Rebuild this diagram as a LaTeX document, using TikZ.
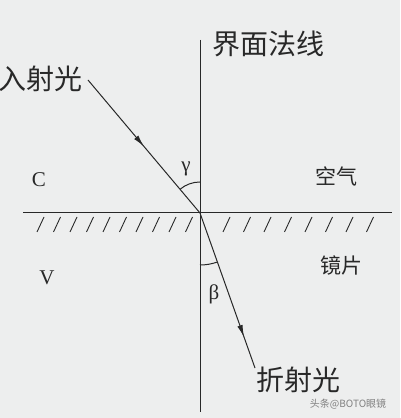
\documentclass[tikz,border=0pt]{standalone}
\usepackage{fontspec}
\newfontfamily\cjk{Noto Sans CJK SC}
\newfontfamily\serifletters{Liberation Serif}
\usetikzlibrary{
  arrows.meta,
  decorations.markings
}
\definecolor{paper}{RGB}{237,238,238}
\definecolor{ink}{RGB}{40,40,40}
\tikzset{
  x = 1pt,
  y = 1pt,
  line/.style = {draw=ink, line width=1pt},
  ray/.style = {line, postaction={decorate}, decoration={markings,
      mark=at position #1 with {\arrow{Latex[length=12pt,width=5.5pt]}}}},
  hatch/.style = {draw=ink, line width=0.9pt},
  bigtext/.style = {font=\cjk\fontsize{28}{28}\selectfont, text=ink, inner sep=0pt},
  midtext/.style = {font=\cjk\fontsize{21}{21}\selectfont, text=ink, inner sep=0pt},
  letter/.style = {font=\serifletters\fontsize{21}{21}\selectfont, text=ink, inner sep=0pt},
  mark text/.style = {font=\cjk\fontsize{10}{10}\selectfont, text=gray, inner sep=0pt},
}

\begin{document}
\begin{tikzpicture}
  \fill[paper] (0,0) rectangle (400,418);
  \useasboundingbox (0,0) rectangle (400,418);

  \coordinate (O) at (200,205);
  \coordinate (top) at (200,378);
  \coordinate (bottom) at (200,6);
  \coordinate (left) at (23,205);
  \coordinate (right) at (392,205);
  \coordinate (in) at (88,338);
  \coordinate (out) at (255,50);

  % normal and interface
  \draw[line] (top) -- (bottom);
  \draw[line] (left) -- (right);

  % mirror hatching
  \foreach \x in {37,53.5,...,190}
    \draw[hatch] (\x,186) -- ++(7,15);
  \foreach \x in {223,243.5,...,370}
    \draw[hatch] (\x,186) -- ++(7,15);

  % rays
  \draw[ray=0.5] (in) -- (O);
  \draw[ray=0.8] (O) -- (out);

  % angles
  \draw[line] (O) ++(90:31) arc[start angle=90, end angle=130, radius=31];
  \draw[line] (O) ++(270:52) arc[start angle=270, end angle=289.5, radius=52];

  % labels
  \node[bigtext] (normal) at (268,374) {界面法线};
  \node[bigtext, anchor=east] (incident) at (83,339) {入射光};
  \node[bigtext] (refracted) at (298,38) {折射光};
  \node[midtext] (air) at (336,242) {空气};
  \node[midtext] (lens) at (341,153) {镜片};
  \node[letter] (c) at (39,238) {C};
  \node[letter] (v) at (47,140) {V};
  \node[letter] (gamma) at (186,249) {γ};
  \node[letter] (beta) at (214,124) {β};
  \node[mark text] (credit) at (348,14) {头条@BOTO眼镜};
\end{tikzpicture}
\end{document}
